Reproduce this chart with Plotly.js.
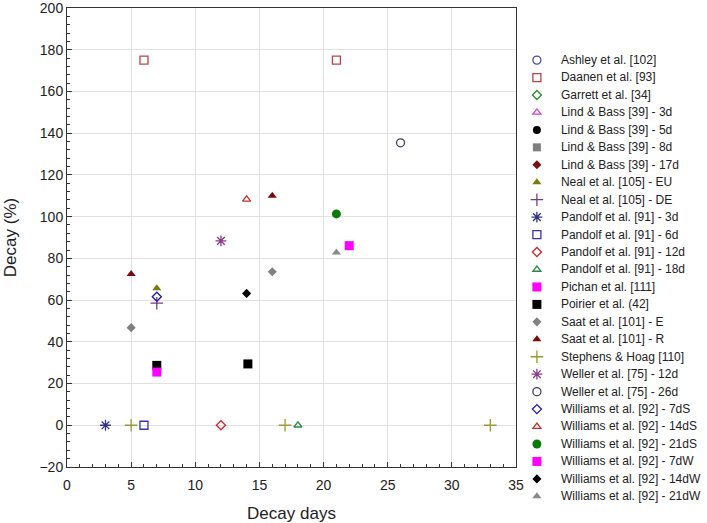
<!DOCTYPE html>
<html><head><meta charset="utf-8">
<script src="https://cdn.plot.ly/plotly-3.0.1.min.js"></script>
<style>html,body{margin:0;padding:0;background:#fff}#chart{width:707px;height:523px}</style>
</head><body><div id="chart"></div>
<script>
// Series names (legend order)
const seriesNames = [
  "Ashley et al. [102]", "Daanen et al. [93]", "Garrett et al. [34]",
  "Lind & Bass [39] - 3d", "Lind & Bass [39] - 5d", "Lind & Bass [39] - 8d", "Lind & Bass [39] - 17d",
  "Neal et al. [105] - EU", "Neal et al. [105] - DE",
  "Pandolf et al. [91] - 3d", "Pandolf et al. [91] - 6d", "Pandolf et al. [91] - 12d", "Pandolf et al. [91] - 18d",
  "Pichan et al. [111]", "Poirier et al. (42]", "Saat et al. [101] - E", "Saat et al. [101] - R",
  "Stephens & Hoag [110]", "Weller et al. [75] - 12d", "Weller et al. [75] - 26d",
  "Williams et al. [92] - 7dS", "Williams et al. [92] - 14dS", "Williams et al. [92] - 21dS",
  "Williams et al. [92] - 7dW", "Williams et al. [92] - 14dW", "Williams et al. [92] - 21dW"
];
// Decay days (x) and decay % (y) per series
const xAshley = [null], yAshley = [null];
const xDaanen = [6, 21], yDaanen = [175, 175];
const xGarrett = [null], yGarrett = [null];
const xLind3 = [null], yLind3 = [null];
const xLind5 = [null], yLind5 = [null];
const xLind8 = [null], yLind8 = [null];
const xLind17 = [null], yLind17 = [null];
const xNealEU = [7], yNealEU = [65.7];
const xNealDE = [7], yNealDE = [58.5];
const xPandolf3 = [3], yPandolf3 = [0];
const xPandolf6 = [6], yPandolf6 = [0];
const xPandolf12 = [12], yPandolf12 = [0];
const xPandolf18 = [18], yPandolf18 = [0];
const xPichan = [22], yPichan = [86.1];
const xPoirier = [7, 14.1], yPoirier = [28.7, 29.4];
const xSaatE = [5, 16], ySaatE = [46.8, 73.6];
const xSaatR = [5, 16], ySaatR = [72.5, 110];
const xStephens = [5, 17, 33], yStephens = [0, 0, 0];
const xWeller12 = [12], yWeller12 = [88.4];
const xWeller26 = [26], yWeller26 = [135.4];
const xW7S = [7], yW7S = [61.6];
const xW14S = [14], yW14S = [108.3];
const xW21S = [21], yW21S = [101.3];
const xW7W = [7], yW7W = [25.5];
const xW14W = [14], yW14W = [63.2];
const xW21W = [21], yW21W = [82.8];

const xs = [xAshley,xDaanen,xGarrett,xLind3,xLind5,xLind8,xLind17,xNealEU,xNealDE,xPandolf3,xPandolf6,xPandolf12,xPandolf18,xPichan,xPoirier,xSaatE,xSaatR,xStephens,xWeller12,xWeller26,xW7S,xW14S,xW21S,xW7W,xW14W,xW21W];
const ys = [yAshley,yDaanen,yGarrett,yLind3,yLind5,yLind8,yLind17,yNealEU,yNealDE,yPandolf3,yPandolf6,yPandolf12,yPandolf18,yPichan,yPoirier,ySaatE,ySaatR,yStephens,yWeller12,yWeller26,yW7S,yW14S,yW21S,yW7W,yW14W,yW21W];

// styles
const styles = [
  {s:"circle-open", c:"#4a48a8", z:8},
  {s:"square-open", c:"#c0404c", z:8},
  {s:"diamond-open", c:"#2a8a2a", z:7},
  {s:"triangle-up-open", c:"#d040d0", z:7},
  {s:"circle", c:"#000000", z:8},
  {s:"square", c:"#808080", z:8},
  {s:"diamond", c:"#7a1010", z:7},
  {s:"triangle-up", c:"#7a7a10", z:8},
  {s:"cross-thin-open", c:"#7a3a8a", z:9},
  {s:"asterisk-open", c:"#303088", z:9},
  {s:"square-open", c:"#3434b4", z:8},
  {s:"diamond-open", c:"#d02828", z:7},
  {s:"triangle-up-open", c:"#2a8a4a", z:7},
  {s:"square", c:"#ff00ff", z:9},
  {s:"square", c:"#000000", z:9},
  {s:"diamond", c:"#808080", z:7},
  {s:"triangle-up", c:"#7a0a0a", z:8},
  {s:"cross-thin-open", c:"#9a9a30", z:9},
  {s:"asterisk-open", c:"#8a3a8a", z:9},
  {s:"circle-open", c:"#404060", z:8},
  {s:"diamond-open", c:"#1818c0", z:7},
  {s:"triangle-up-open", c:"#c03030", z:7},
  {s:"circle", c:"#0a7a0a", z:9},
  {s:"square", c:"#ff00ff", z:9},
  {s:"diamond", c:"#000000", z:7},
  {s:"triangle-up", c:"#8a8a8a", z:8}
];

const traces = seriesNames.map((n, i) => ({
  type: "scatter", mode: "markers", name: n, x: xs[i], y: ys[i],
  marker: {symbol: styles[i].s, color: styles[i].c, size: styles[i].z,
           line: {color: styles[i].c, width: styles[i].s.indexOf("open") >= 0 ? 1.3 : 0}}
}));

const fam = "Liberation Sans, Arial, sans-serif";
const layout = {
  width: 707, height: 523,
  margin: {l: 67, r: 191, t: 8, b: 56},
  paper_bgcolor: "#fff", plot_bgcolor: "#fff",
  font: {size: 13, family: fam, color: "#222"},
  showlegend: true,
  legend: {x: 1.002, xanchor: "left", y: 1.0, yanchor: "top", font: {size: 10, color: "#222", family: fam}, itemwidth: 30, tracegroupgap: 0, bgcolor: "rgba(0,0,0,0)"},
  xaxis: {range: [0, 35], dtick: 5, tick0: 0, showgrid: true, gridcolor: "#e2e2e2", zeroline: false,
          showline: true, linecolor: "#333", linewidth: 1, mirror: true,
          ticks: "inside", ticklen: 5, tickcolor: "#333", ticklabeloverflow: "allow", ticklabelstandoff: 5,
          minor: {dtick: 1, ticks: "inside", ticklen: 3, tickcolor: "#333", showgrid: false},
          tickfont: {size: 14, color: "#222"},
          title: {text: "Decay days", font: {size: 17, color: "#222"}, standoff: 16}},
  yaxis: {range: [-20, 200], dtick: 20, tick0: 0, showgrid: true, gridcolor: "#e2e2e2", zeroline: false,
          showline: true, linecolor: "#333", linewidth: 1, mirror: true,
          ticks: "inside", ticklen: 5, tickcolor: "#333", ticklabeloverflow: "allow",
          minor: {dtick: 4, ticks: "inside", ticklen: 3, tickcolor: "#333", showgrid: false},
          tickfont: {size: 14, color: "#222"},
          title: {text: "Decay (%)", font: {size: 17, color: "#222"}, standoff: 18}}
};

// legend layout in reference: first entry centred at y=60, entries 17.45px apart
const legendFirstY = 60, legendStep = 17.45, legendTextShift = 4, legendTextSize = 12;

Plotly.newPlot("chart", traces, layout, {displayModeBar: false, staticPlot: true}).then(gd => {
  const sb = gd.querySelector(".legend .scrollbox");
  if (sb) sb.removeAttribute("clip-path");
  const items = gd.querySelectorAll(".legend .traces");
  const root = gd.getBoundingClientRect();
  items.forEach((it, i) => {
    const txt = it.querySelector(".legendtext");
    txt.style.fontSize = legendTextSize + "px";
    const r = txt.getBoundingClientRect();
    const cy = (r.top + r.bottom) / 2 - root.top;
    const dy = legendFirstY + i * legendStep - cy;
    const m = /translate\(\s*([-\d.e]+)[ ,]+([-\d.e]+)\s*\)/.exec(it.getAttribute("transform") || "translate(0,0)");
    const tx = m ? parseFloat(m[1]) : 0, ty = m ? parseFloat(m[2]) : 0;
    it.setAttribute("transform", `translate(${tx},${ty + dy})`);
    txt.setAttribute("x", parseFloat(txt.getAttribute("x") || 0) + legendTextShift);
  });
});
</script></body></html>
